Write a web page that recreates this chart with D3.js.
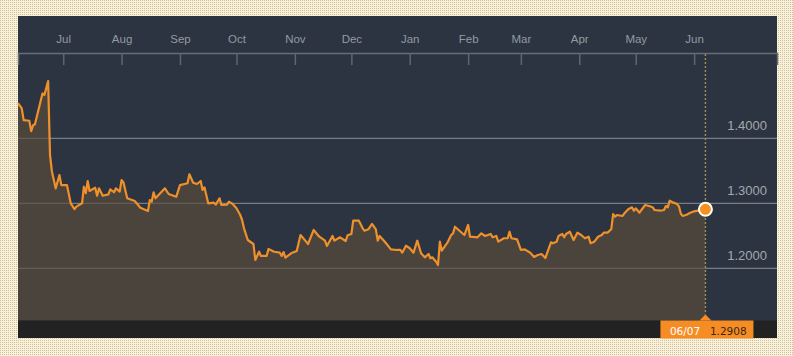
<!DOCTYPE html>
<html>
<head>
<meta charset="utf-8">
<script src="https://cdn.jsdelivr.net/npm/d3@7"></script>
<style>
  html, body { margin: 0; padding: 0; background: #f7efd8; }
  svg { display: block; }
</style>
</head>
<body>
<svg id="chart" width="793" height="356"></svg>
<script>
// ---------- DATA ----------
const dates = [
  "2016-06-07","2016-06-09","2016-06-10","2016-06-13","2016-06-14","2016-06-15","2016-06-16","2016-06-20","2016-06-21","2016-06-23",
  "2016-06-24","2016-06-25","2016-06-27","2016-06-29","2016-06-30","2016-07-03","2016-07-05","2016-07-07","2016-07-08","2016-07-11",
  "2016-07-12","2016-07-13","2016-07-14","2016-07-15","2016-07-18","2016-07-19","2016-07-20","2016-07-22","2016-07-25","2016-07-26",
  "2016-07-28","2016-07-29","2016-07-31","2016-08-01","2016-08-02","2016-08-04","2016-08-08","2016-08-11","2016-08-15","2016-08-16",
  "2016-08-17","2016-08-18","2016-08-19","2016-08-24","2016-08-26","2016-08-30","2016-09-01","2016-09-05","2016-09-06","2016-09-08",
  "2016-09-10","2016-09-12","2016-09-13","2016-09-14","2016-09-16","2016-09-19","2016-09-20","2016-09-22","2016-09-23","2016-09-26",
  "2016-09-27","2016-09-29","2016-10-01","2016-10-03","2016-10-04","2016-10-05","2016-10-07","2016-10-10","2016-10-11","2016-10-13",
  "2016-10-14","2016-10-17","2016-10-18","2016-10-21","2016-10-24","2016-10-25","2016-10-26","2016-10-27","2016-10-30","2016-11-02",
  "2016-11-04","2016-11-07","2016-11-08","2016-11-11","2016-11-14","2016-11-17","2016-11-18","2016-11-21","2016-11-22","2016-11-25",
  "2016-11-28","2016-11-29","2016-12-01","2016-12-02","2016-12-05","2016-12-07","2016-12-08","2016-12-10","2016-12-12","2016-12-14",
  "2016-12-15","2016-12-16","2016-12-19","2016-12-22","2016-12-25","2016-12-27","2016-12-28","2016-12-30","2017-01-01","2017-01-03",
  "2017-01-05","2017-01-07","2017-01-09","2017-01-11","2017-01-12","2017-01-13","2017-01-15","2017-01-16","2017-01-17","2017-01-18",
  "2017-01-21","2017-01-23","2017-01-24","2017-01-25","2017-01-28","2017-01-30","2017-02-01","2017-02-02","2017-02-06","2017-02-08",
  "2017-02-10","2017-02-13","2017-02-14","2017-02-16","2017-02-17","2017-02-20","2017-02-22","2017-02-23","2017-02-24","2017-02-27",
  "2017-03-01","2017-03-03","2017-03-06","2017-03-08","2017-03-10","2017-03-12","2017-03-14","2017-03-17","2017-03-18","2017-03-20",
  "2017-03-21","2017-03-23","2017-03-24","2017-03-25","2017-03-27","2017-03-29","2017-03-31","2017-04-02","2017-04-04","2017-04-06",
  "2017-04-07","2017-04-09","2017-04-11","2017-04-13","2017-04-14","2017-04-16","2017-04-18","2017-04-19","2017-04-20","2017-04-21",
  "2017-04-24","2017-04-25","2017-04-27","2017-04-29","2017-04-30","2017-05-01","2017-05-03","2017-05-04","2017-05-06","2017-05-08",
  "2017-05-10","2017-05-11","2017-05-14","2017-05-16","2017-05-17","2017-05-18","2017-05-19","2017-05-21","2017-05-23","2017-05-24",
  "2017-05-25","2017-05-26","2017-05-28","2017-05-30","2017-06-01","2017-06-03","2017-06-05","2017-06-07"
];
const values = [
  1.454,1.446,1.428,1.427,1.411,1.420,1.4215,1.469,1.4666,1.488,
  1.374,1.349,1.323,1.3435,1.328,1.328,1.300,1.291,1.2948,1.300,
  1.3255,1.3154,1.3343,1.319,1.324,1.3117,1.323,1.3117,1.3138,1.3215,
  1.317,1.323,1.318,1.3358,1.332,1.3077,1.3035,1.2932,1.288,1.305,
  1.3025,1.317,1.3077,1.323,1.3143,1.310,1.328,1.3308,1.3446,1.3317,
  1.3297,1.3343,1.3205,1.3246,1.300,1.301,1.298,1.3077,1.2974,1.298,
  1.3025,1.299,1.2923,1.282,1.2743,1.2615,1.2435,1.2374,1.2128,1.2255,
  1.219,1.219,1.2297,1.2255,1.224,1.219,1.225,1.2163,1.223,1.2266,
  1.2512,1.241,1.2374,1.259,1.2486,1.2425,1.2343,1.2497,1.2425,1.2477,
  1.242,1.2508,1.2528,1.2732,1.2732,1.2615,1.2578,1.260,1.2682,1.260,
  1.2425,1.2497,1.240,1.2292,1.2282,1.2282,1.224,1.2348,1.2308,1.224,
  1.2425,1.2231,1.2169,1.222,1.2154,1.2169,1.2102,1.2051,1.241,1.2271,
  1.2394,1.2512,1.2538,1.264,1.2563,1.2512,1.2666,1.2486,1.2477,1.2538,
  1.2497,1.2528,1.2477,1.2497,1.241,1.2462,1.2462,1.2563,1.2462,1.2446,
  1.2282,1.2292,1.224,1.2175,1.2205,1.222,1.2158,1.240,1.2385,1.241,
  1.2497,1.2528,1.2477,1.2528,1.2563,1.2435,1.2548,1.2512,1.2462,1.2486,
  1.2385,1.241,1.2486,1.2512,1.2548,1.2548,1.260,1.2835,1.2794,1.282,
  1.2805,1.2846,1.2908,1.2938,1.2886,1.2923,1.2855,1.2897,1.2974,1.2958,
  1.2938,1.2897,1.2886,1.2897,1.2958,1.2938,1.304,1.301,1.2989,1.2948,
  1.2835,1.2805,1.2825,1.2855,1.2877,1.2886,1.2886,1.2908
];
const monthTicks = ["2016-07-01","2016-08-01","2016-09-01","2016-10-01","2016-11-01","2016-12-01",
                    "2017-01-01","2017-02-01","2017-03-01","2017-04-01","2017-05-01","2017-06-01"];
const yTicks = [1.2, 1.3, 1.4];
const xDomain = ["2016-06-07", "2017-07-15"];

// ---------- SETUP ----------
const parse = d3.timeParse("%Y-%m-%d");
const data = dates.map((d, i) => ({ date: parse(d), value: values[i] }));
const last = data[data.length - 1];

const svg = d3.select("#chart");
const W = 793, H = 356;
const panel = { left: 18, right: 777, top: 16, bottom: 338 };
const plotBottom = 320.5;
const axisY = 53;

const x = d3.scaleTime().domain(xDomain.map(parse)).range([panel.left, panel.right]);
const y = d3.scaleLinear().domain([1.2, 1.4]).range([268.3, 138.3]);

// background pattern
const defs = svg.append("defs");
const pat = defs.append("pattern").attr("id", "dots").attr("width", 2).attr("height", 2)
  .attr("patternUnits", "userSpaceOnUse");
pat.append("rect").attr("width", 2).attr("height", 2).attr("fill", "#f8f0da");
pat.append("rect").attr("width", 1).attr("height", 1).attr("fill", "#d3c39c");
svg.append("rect").attr("width", W).attr("height", H).attr("fill", "url(#dots)");

// panel
svg.append("rect").attr("x", panel.left).attr("y", panel.top)
  .attr("width", panel.right - panel.left).attr("height", panel.bottom - panel.top)
  .attr("fill", "#2b3440");

// gridlines + labels
const grid = svg.append("g");
grid.selectAll("line").data(yTicks).join("line")
  .attr("x1", panel.left).attr("x2", panel.right)
  .attr("y1", d => y(d)).attr("y2", d => y(d))
  .attr("stroke", "#8c9096").attr("stroke-width", 1);
grid.selectAll("text").data(yTicks).join("text")
  .attr("x", 767).attr("y", d => y(d) - 8)
  .attr("text-anchor", "end")
  .attr("font-family", "Liberation Sans, Arial, sans-serif")
  .attr("font-size", 13)
  .attr("fill", "#a3a8ae")
  .text(d3.format(".4f"));

// area
const area = d3.area().x(d => x(d.date)).y0(plotBottom).y1(d => y(d.value));
svg.append("path").datum(data).attr("d", area)
  .attr("fill", "rgb(92,76,60)").attr("fill-opacity", 0.68);

// line
const line = d3.line().x(d => x(d.date)).y(d => y(d.value));
svg.append("path").datum(data).attr("d", line)
  .attr("fill", "none").attr("stroke", "#f0902a").attr("stroke-width", 2.2)
  .attr("stroke-linejoin", "round");

// top axis
const xAxis = d3.axisBottom(x)
  .tickValues(monthTicks.map(parse))
  .tickFormat(d3.timeFormat("%b"))
  .tickSize(12).tickSizeOuter(12).tickPadding(0);
const ax = svg.append("g").attr("transform", `translate(0,${axisY})`).call(xAxis);
ax.select(".domain").attr("stroke", "#666d76").attr("stroke-width", 1.5);
ax.selectAll(".tick line").attr("stroke", "#5f6670").attr("stroke-width", 1.5);
ax.selectAll(".tick text")
  .attr("y", -10).attr("dy", 0)
  .attr("font-family", "Liberation Sans, Arial, sans-serif")
  .attr("font-size", 11.5)
  .attr("fill", "#939aa3");

// bottom strip
svg.append("rect").attr("x", panel.left).attr("y", plotBottom)
  .attr("width", panel.right - panel.left).attr("height", panel.bottom - plotBottom)
  .attr("fill", "#222222");

// dotted vertical line at last date
const xl = x(last.date);
svg.append("line").attr("x1", xl).attr("x2", xl).attr("y1", axisY + 1).attr("y2", plotBottom - 6)
  .attr("stroke", "#9c8c55").attr("stroke-width", 1.5).attr("stroke-dasharray", "2,2");

// end circle
svg.append("circle").attr("cx", xl).attr("cy", y(last.value)).attr("r", 6.5)
  .attr("fill", "#f7901e").attr("stroke", "#ffffff").attr("stroke-width", 2);

// bottom label
const lab = svg.append("g");
const boxL = xl - 45, boxW = 93;
lab.append("path")
  .attr("d", `M${xl - 6},${plotBottom} L${xl},${plotBottom - 6} L${xl + 6},${plotBottom} Z`)
  .attr("fill", "#f68d24");
lab.append("rect").attr("x", boxL).attr("y", plotBottom).attr("width", boxW)
  .attr("height", panel.bottom - plotBottom + 0.5).attr("fill", "#f68d24");
lab.append("text").attr("x", boxL + 9.5).attr("y", 335)
  .attr("font-family", "DejaVu Sans, Verdana, sans-serif").attr("font-size", 10.5)
  .attr("fill", "#ffffff").text(d3.timeFormat("%m/%d")(last.date));
lab.append("text").attr("x", boxL + 49.5).attr("y", 335)
  .attr("font-family", "DejaVu Sans, Verdana, sans-serif").attr("font-size", 10.5)
  .attr("fill", "#3a2812").text(d3.format(".4f")(last.value));
</script>
</body>
</html>
